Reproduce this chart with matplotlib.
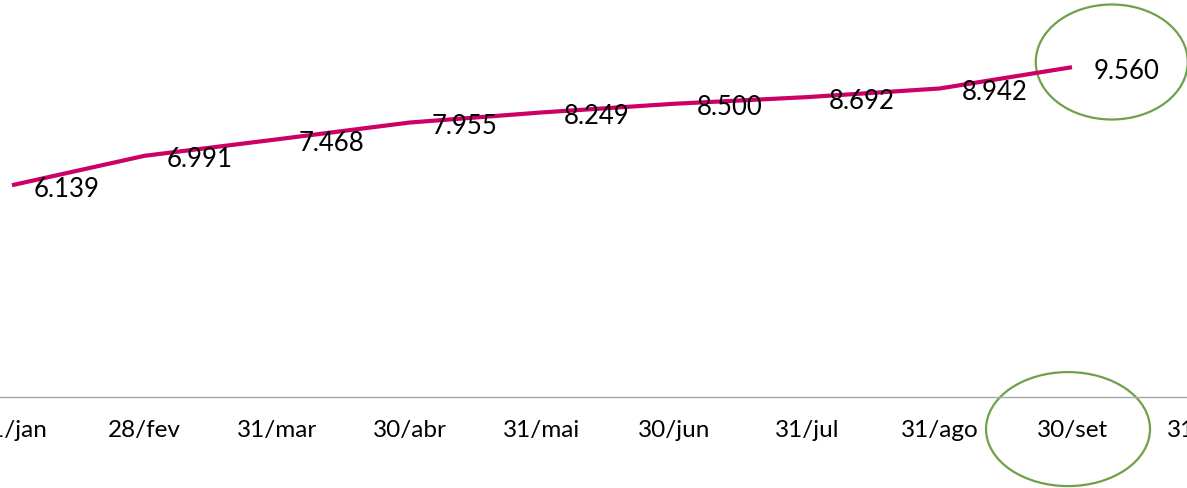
import matplotlib
matplotlib.use("Agg")
import matplotlib.pyplot as plt
from matplotlib.patches import Ellipse

categories = ["31/jan", "28/fev", "31/mar", "30/abr", "31/mai", "30/jun",
              "31/jul", "31/ago", "30/set", "31/out"]
values = [6.139, 6.991, 7.468, 7.955, 8.249, 8.500, 8.692, 8.942, 9.560]
labels = ["6.139", "6.991", "7.468", "7.955", "8.249", "8.500", "8.692", "8.942", "9.560"]

plt.rcParams['font.family'] = ['Lato', 'DejaVu Sans']

W, H = 1187, 489
fig = plt.figure(figsize=(W / 100, H / 100), dpi=100)
band = 132.5
x0 = 12  # pixel center of first category
left_px = x0 - 0.5 * band
width_px = band * len(categories)
bottom_px = H - 398
ax = fig.add_axes([left_px / W, bottom_px / H, width_px / W, (H - bottom_px) / H])

xs = list(range(len(values)))
ax.plot(xs, values, color="#CC0066", lw=3, solid_capstyle="butt")

for x, v, t in zip(xs, values, labels):
    ax.annotate(t, (x, v), xytext=(22, -3), textcoords="offset pixels",
                ha="left", va="center", fontsize=18.5, color="black")

ax.set_xlim(-0.5, len(categories) - 0.5)
ax.set_ylim(0, 398 / 34.5)
ax.set_xticks(range(len(categories)))
ax.set_xticklabels(categories, fontsize=17.5)
ax.tick_params(axis="x", length=0, pad=16)
ax.set_yticks([])
for s in ["top", "right", "left"]:
    ax.spines[s].set_visible(False)
ax.spines["bottom"].set_color("#A6A6A6")
ax.spines["bottom"].set_linewidth(1)

green = "#70A04A"
last = len(values) - 1
e1 = Ellipse((last + 0.30, values[last] + 0.15), 152 / band, 115 / 34.5,
             fill=False, edgecolor=green, lw=1.6, clip_on=False)
e2 = Ellipse((last - 0.03, -0.93), 164 / band, 114 / 34.5,
             fill=False, edgecolor=green, lw=1.6, clip_on=False)
ax.add_patch(e1)
ax.add_patch(e2)

fig.savefig("out.png", dpi=100)
